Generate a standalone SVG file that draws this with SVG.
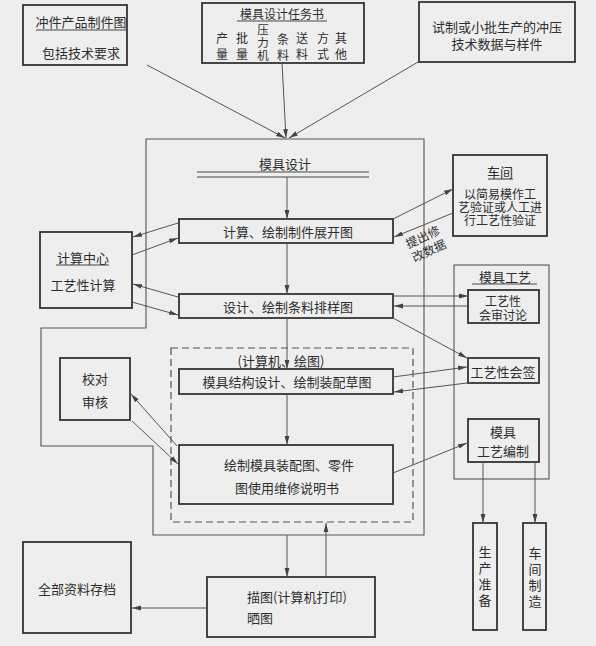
<svg xmlns="http://www.w3.org/2000/svg" width="596" height="646" viewBox="0 0 596 646">
<defs>
<marker id="ah" markerUnits="userSpaceOnUse" markerWidth="9" markerHeight="6" refX="9" refY="3" orient="auto">
<path d="M0,0.6 L9,3 L0,5.4 z" fill="#444"/>
</marker>
<style>
.bx{fill:none;stroke:#333;stroke-width:1.8}
.fr{fill:none;stroke:#555;stroke-width:1.1}
.ds{fill:none;stroke:#555;stroke-width:1.2;stroke-dasharray:7 4}
.ul{stroke:#444;stroke-width:1.1}
.c{stroke:#555;stroke-width:1;fill:none;marker-end:url(#ah)}
text{font-family:"Noto Sans CJK SC","Noto Sans",sans-serif;font-size:13px;fill:#2e2e2e;text-anchor:middle;dominant-baseline:central}
.s{font-size:12px}
.t{font-size:11.5px}
</style>
</defs>
<rect width="596" height="646" fill="#eeeeee"/>

<g id="frame-design">
<path class="fr" d="M146,139 H424 V535 H153 V446 H41 V328 H146 Z"/>
<text x="285" y="163">模具设计</text>
<line class="ul" x1="197" y1="172" x2="369" y2="172"/>
<line class="ul" x1="197" y1="177" x2="369" y2="177"/>
</g>

<g id="frame-process">
<rect class="fr" x="454" y="265" width="95" height="214"/>
<text x="505" y="276">模具工艺</text>
<line class="ul" x1="472" y1="284" x2="537" y2="284"/>
</g>

<g id="frame-computer">
<rect class="ds" x="171" y="348" width="242" height="174"/>
<text x="281" y="360">(计算机、绘图)</text>
</g>

<g id="n-drawing">
<rect class="bx" x="23" y="5" width="104" height="60"/>
<text x="81" y="21">冲件产品制件图</text>
<line class="ul" x1="36" y1="30" x2="126" y2="30"/>
<text x="81" y="52">包括技术要求</text>
</g>

<g id="n-taskbook">
<rect class="bx" x="202" y="3" width="162" height="60"/>
<text x="282" y="13" class="s">模具设计任务书</text>
<line class="ul" x1="237" y1="21" x2="327" y2="21"/>
<text class="s"><tspan x="222" y="37">产</tspan><tspan x="222" y="53">量</tspan></text>
<text class="s"><tspan x="242" y="37">批</tspan><tspan x="242" y="53">量</tspan></text>
<text class="t"><tspan x="263" y="29">压</tspan><tspan x="263" y="42">力</tspan><tspan x="263" y="55">机</tspan></text>
<text class="s"><tspan x="283" y="38">条</tspan><tspan x="283" y="54">料</tspan></text>
<text class="s"><tspan x="302" y="37">送</tspan><tspan x="302" y="53">料</tspan></text>
<text class="s"><tspan x="323" y="37">方</tspan><tspan x="323" y="53">式</tspan></text>
<text class="s"><tspan x="341" y="37">其</tspan><tspan x="341" y="53">他</tspan></text>
</g>

<g id="n-trial">
<rect class="bx" x="419" y="2" width="156" height="60"/>
<text><tspan x="497" y="26">试制或小批生产的冲压</tspan><tspan x="497" y="43">技术数据与样件</tspan></text>
</g>

<g id="n-unfold">
<rect class="bx" x="179" y="219" width="214" height="24"/>
<text x="288" y="231">计算、绘制制件展开图</text>
</g>

<g id="n-calc">
<rect class="bx" x="40" y="232" width="92" height="76"/>
<text x="83" y="257">计算中心</text>
<line class="ul" x1="56" y1="265" x2="109" y2="265"/>
<text x="83" y="284">工艺性计算</text>
</g>

<g id="n-workshop">
<rect class="bx" x="453" y="155" width="94" height="81"/>
<text x="500" y="171">车间</text>
<line class="ul" x1="488" y1="179" x2="513" y2="179"/>
<text class="s"><tspan x="500" y="193">以简易模作工</tspan><tspan x="500" y="206">艺验证或人工进</tspan><tspan x="500" y="219">行工艺性验证</tspan></text>
</g>

<g id="n-layout">
<rect class="bx" x="179" y="294" width="214" height="24"/>
<text x="288" y="306">设计、绘制条料排样图</text>
</g>

<g id="n-review">
<rect class="bx" x="468" y="290" width="71" height="33"/>
<text class="s"><tspan x="503" y="300">工艺性</tspan><tspan x="503" y="314">会审讨论</tspan></text>
</g>

<g id="n-check">
<rect class="bx" x="60" y="358" width="70" height="62"/>
<text><tspan x="95" y="378">校对</tspan><tspan x="95" y="401">审核</tspan></text>
</g>

<g id="n-structure">
<rect class="bx" x="179" y="369" width="214" height="25"/>
<text x="287" y="381">模具结构设计、绘制装配草图</text>
</g>

<g id="n-sign">
<rect class="bx" x="468" y="358" width="71" height="25"/>
<text x="503" y="371">工艺性会签</text>
</g>

<g id="n-assembly">
<rect class="bx" x="179" y="445" width="214" height="59"/>
<text><tspan x="289" y="464">绘制模具装配图、零件</tspan><tspan x="287" y="487">图使用维修说明书</tspan></text>
</g>

<g id="n-plan">
<rect class="bx" x="468" y="419" width="71" height="43"/>
<text><tspan x="503" y="431">模具</tspan><tspan x="503" y="450">工艺编制</tspan></text>
</g>

<g id="n-prep">
<rect class="bx" x="473" y="523" width="24" height="107"/>
<text><tspan x="485" y="551">生</tspan><tspan x="485" y="567">产</tspan><tspan x="485" y="583">准</tspan><tspan x="485" y="599">备</tspan></text>
</g>

<g id="n-manuf">
<rect class="bx" x="523" y="523" width="23" height="107"/>
<text><tspan x="535" y="552">车</tspan><tspan x="535" y="568">间</tspan><tspan x="535" y="584">制</tspan><tspan x="535" y="600">造</tspan></text>
</g>

<g id="n-trace">
<rect class="bx" x="207" y="577" width="168" height="60"/>
<text style="text-anchor:start"><tspan x="247" y="596">描图(计算机打印)</tspan><tspan x="247" y="617">晒图</tspan></text>
</g>

<g id="n-archive">
<rect class="bx" x="23" y="542" width="108" height="91"/>
<text x="77" y="588">全部资料存档</text>
</g>

<g id="connectors">
<line class="c" x1="147" y1="65" x2="285" y2="138"/>
<line class="c" x1="282" y1="63" x2="286" y2="138"/>
<line class="c" x1="418" y1="62" x2="289" y2="138"/>
<line class="c" x1="287" y1="177" x2="287" y2="219"/>
<line class="c" x1="178" y1="223" x2="133" y2="237"/>
<line class="c" x1="132" y1="255" x2="178" y2="238"/>
<line class="c" x1="393" y1="219" x2="453" y2="189"/>
<line class="c" x1="453" y1="213" x2="394" y2="237"/>
<line class="c" x1="287" y1="243" x2="287" y2="294"/>
<line class="c" x1="178" y1="297" x2="133" y2="284"/>
<line class="c" x1="132" y1="302" x2="178" y2="315"/>
<line class="c" x1="393" y1="296" x2="468" y2="296"/>
<line class="c" x1="468" y1="306" x2="394" y2="306"/>
<line class="c" x1="393" y1="318" x2="467" y2="358"/>
<line class="c" x1="287" y1="318" x2="287" y2="369"/>
<line class="c" x1="393" y1="377" x2="467" y2="367"/>
<line class="c" x1="467" y1="383" x2="394" y2="392"/>
<line class="c" x1="287" y1="394" x2="287" y2="445"/>
<line class="c" x1="177" y1="446" x2="131" y2="394"/>
<line class="c" x1="132" y1="421" x2="178" y2="464"/>
<line class="c" x1="393" y1="473" x2="467" y2="443"/>
<line class="c" x1="483" y1="462" x2="483" y2="523"/>
<line class="c" x1="535" y1="462" x2="535" y2="523"/>
<line class="c" x1="287" y1="535" x2="287" y2="577"/>
<line class="c" x1="326" y1="577" x2="326" y2="523"/>
<line class="c" x1="207" y1="608" x2="132" y2="608"/>
<text class="s" transform="rotate(-25 425 242)"><tspan x="425" y="235">提出修</tspan><tspan x="425" y="250">改数据</tspan></text>
</g>
</svg>
